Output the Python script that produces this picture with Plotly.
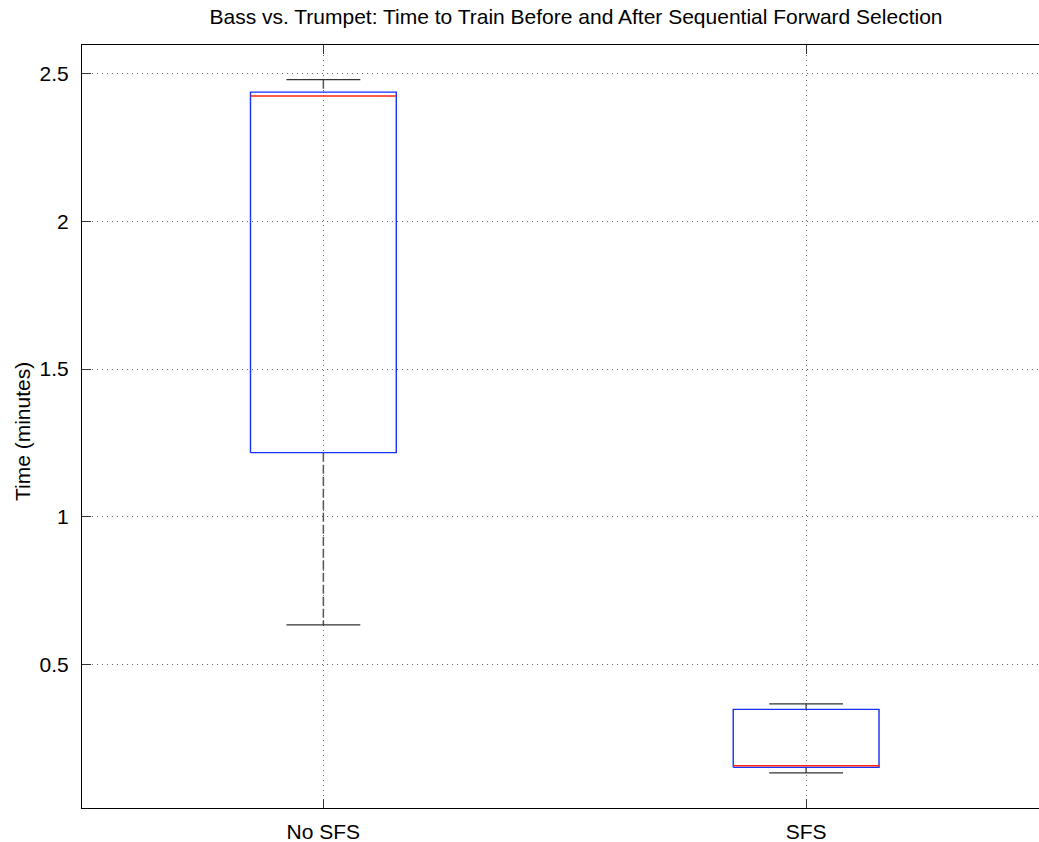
import plotly.graph_objects as go

# ---- data ----
groups = ["No SFS", "SFS"]
upper_whisker = [2.479, 0.367]
q3 = [2.437, 0.348]
median = [2.424, 0.1575]
q1 = [1.217, 0.152]
lower_whisker = [0.634, 0.133]

y_ticks = [0.5, 1, 1.5, 2, 2.5]
y_tick_labels = ["0.5", "1", "1.5", "2", "2.5"]

title_text = "Bass vs. Trumpet: Time to Train Before and After Sequential Forward Selection"
y_title = "Time (minutes)"

# ---- style ----
BOX_HALF = 0.151
CAP_HALF = 0.0765
FONT = "Liberation Sans, Arial, Helvetica, sans-serif"
W, H = 1039, 842
ML, MT, MB, MR = 82, 45, 34, 0

positions = [i + 1 for i in range(len(groups))]

box_x, box_y = [], []
med_x, med_y = [], []
wh_x, wh_y = [], []
cap_x, cap_y = [], []
for p, uw, b3, md, b1, lw in zip(positions, upper_whisker, q3, median, q1, lower_whisker):
    box_x += [p - BOX_HALF, p + BOX_HALF, p + BOX_HALF, p - BOX_HALF, p - BOX_HALF, None]
    box_y += [b1, b1, b3, b3, b1, None]
    med_x += [p - BOX_HALF, p + BOX_HALF, None]
    med_y += [md, md, None]
    wh_x += [p, p, None, p, p, None]
    wh_y += [uw, b3, None, b1, lw, None]
    cap_x += [p - CAP_HALF, p + CAP_HALF, None, p - CAP_HALF, p + CAP_HALF, None]
    cap_y += [uw, uw, None, lw, lw, None]

fig = go.Figure()
fig.add_trace(go.Scatter(x=wh_x, y=wh_y, mode="lines",
                         line=dict(color="#555555", width=1.5, dash="9px,3px"),
                         hoverinfo="skip", showlegend=False))
fig.add_trace(go.Scatter(x=cap_x, y=cap_y, mode="lines",
                         line=dict(color="#333333", width=1.3),
                         hoverinfo="skip", showlegend=False))
fig.add_trace(go.Scatter(x=box_x, y=box_y, mode="lines",
                         line=dict(color="#1530ff", width=1.4),
                         hoverinfo="skip", showlegend=False))
fig.add_trace(go.Scatter(x=med_x, y=med_y, mode="lines",
                         line=dict(color="#ff2010", width=1.4),
                         hoverinfo="skip", showlegend=False))

plot_w = W - ML - MR
x_right = 2 + (W - 806) / 483.0

fig.update_layout(
    width=W, height=H,
    margin=dict(l=ML, r=MR, t=MT, b=MB, pad=0),
    paper_bgcolor="white", plot_bgcolor="white",
    showlegend=False,
    font=dict(family=FONT, size=21, color="black"),
    title=dict(text=title_text, x=576 / W, xref="container", xanchor="center",
               y=1 - 17 / H, yref="container", yanchor="middle",
               font=dict(family=FONT, size=21, color="black")),
    xaxis=dict(range=[0.5, x_right], tickmode="array", tickvals=positions, ticktext=groups,
               ticks="inside", ticklen=9, tickcolor="#333333", tickwidth=1,
               showline=True, linecolor="black", linewidth=1, mirror="ticks",
               showgrid=True, gridcolor="#666666", gridwidth=1, griddash="1px,4px",
               zeroline=False, ticklabelstandoff=5,
               tickfont=dict(family=FONT, size=21, color="black")),
    yaxis=dict(range=[0.0144, 2.5965], tickmode="array", tickvals=y_ticks, ticktext=y_tick_labels,
               ticks="inside", ticklen=9, tickcolor="#333333", tickwidth=1,
               showline=True, linecolor="black", linewidth=1, mirror=False,
               showgrid=True, gridcolor="#666666", gridwidth=1, griddash="1px,4px",
               zeroline=False, ticklabelstandoff=8,
               tickfont=dict(family=FONT, size=21, color="black")),
    annotations=[dict(text=y_title, textangle=-90, xref="paper", yref="paper",
                      x=(22.5 - ML) / plot_w, y=1 - (431.5 - MT) / (H - MT - MB),
                      xanchor="center", yanchor="middle", showarrow=False,
                      font=dict(family=FONT, size=21, color="black"))],
)

fig.write_html("out.html")
